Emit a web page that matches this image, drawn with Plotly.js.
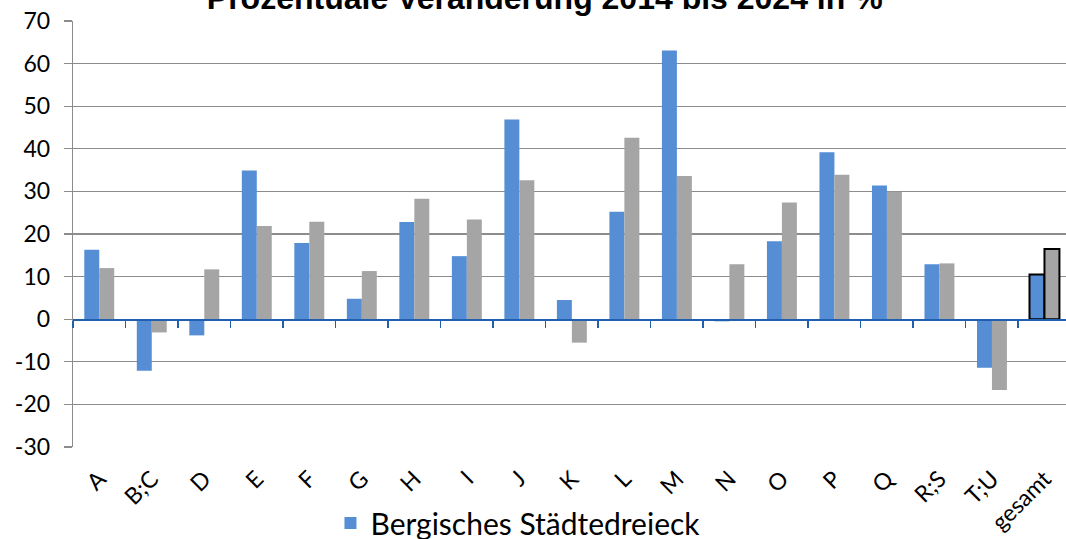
<!DOCTYPE html>
<html>
<head>
<meta charset="utf-8">
<script src="https://cdn.plot.ly/plotly-3.0.1.min.js"></script>
<style>
html,body{margin:0;padding:0;background:#fff;overflow:hidden;}
#chart{width:1066px;height:539px;}
</style>
</head>
<body>
<div id="chart"></div>
<script>
const categories = ["A","B;C","D","E","F","G","H","I","J","K","L","M","N","O","P","Q","R;S","T;U","gesamt"];
const bergisch = [16.3,-12.1,-3.8,34.9,17.9,4.8,22.8,14.8,46.9,4.5,25.2,63.1,-0.5,18.3,39.2,31.4,12.9,-11.4,10.5];
const nrw = [12.0,-3.1,11.7,21.9,22.9,11.3,28.3,23.4,32.6,-5.5,42.6,33.6,12.9,27.4,33.9,29.9,13.1,-16.6,16.5];
const seriesNames = ["Bergisches Städtedreieck","NRW"];
const titleText = "Prozentuale Veränderung 2014 bis 2024 in %";
const yTickVals = [-30,-20,-10,0,10,20,30,40,50,60,70];
const yTickText = ["-30","-20","-10","0","10","20","30","40","50","60","70"];

const lastIdx = categories.length - 1;
const outlineColors = categories.map((c,i)=> i===lastIdx ? "#000000" : "rgba(0,0,0,0)");
const outlineWidths = categories.map((c,i)=> i===lastIdx ? 2 : 0);

const traces = [
  {type:"bar", name:seriesNames[0], x:categories, y:bergisch,
   marker:{color:"#558ED5", line:{color:outlineColors, width:outlineWidths}},
   hoverinfo:"x+y"},
  {type:"bar", name:seriesNames[1], x:categories, y:nrw, showlegend:false,
   marker:{color:"#A5A5A5", line:{color:outlineColors, width:outlineWidths}},
   hoverinfo:"x+y"},
  {type:"scatter", mode:"markers", x:categories, y:bergisch, xaxis:"x2", yaxis:"y",
   marker:{opacity:0}, showlegend:false, hoverinfo:"skip"}
];

const layout = {
  width:1066, height:539,
  margin:{l:73, r:0, t:21, b:92, pad:0},
  paper_bgcolor:"#ffffff", plot_bgcolor:"#ffffff",
  font:{family:"Lato, 'Open Sans', sans-serif", color:"#000000"},
  title:{text:titleText, font:{family:"'Liberation Sans', Arial, sans-serif", size:32, color:"#000000", weight:"bold"},
         xref:"container", yref:"container", x:0.511, xanchor:"center", y:1-8.5/539, yanchor:"bottom"},
  barmode:"group", bargap:0.43, bargroupgap:0,
  showlegend:true,
  legend:{orientation:"h", xref:"container", yref:"container", x:0.31, xanchor:"left", y:1-497/539, yanchor:"top",
          font:{size:30, color:"#000000"}, itemwidth:30, tracegroupgap:0, bgcolor:"rgba(0,0,0,0)"},
  xaxis:{type:"category", range:[-0.5, 18.41], showline:false, showgrid:false, zeroline:false,
         ticks:"", tickangle:-45, ticklabelstandoff:13, tickfont:{size:23, color:"#000000"}, fixedrange:true},
  xaxis2:{type:"category", matches:"x", overlaying:"x", anchor:"free", position:0.3,
          showline:true, linecolor:"#1F5FAD", linewidth:1.5, ticks:"outside", tickson:"boundaries",
          ticklen:7, tickwidth:1.5, tickcolor:"#1F5FAD", showticklabels:false, showgrid:false, zeroline:false},
  yaxis:{range:[-30,70], tickmode:"array", tickvals:yTickVals, ticktext:yTickText,
         showline:true, linecolor:"#8c8c8c", linewidth:1.3,
         showgrid:true, gridcolor:"#8c8c8c", gridwidth:1.3, zeroline:false,
         ticks:"outside", ticklen:8, tickwidth:1.3, tickcolor:"#8c8c8c", ticklabelstandoff:9,
         tickfont:{size:23, color:"#000000"}, fixedrange:true}
};

Plotly.newPlot("chart", traces, layout, {displayModeBar:false, staticPlot:true});
</script>
</body>
</html>
